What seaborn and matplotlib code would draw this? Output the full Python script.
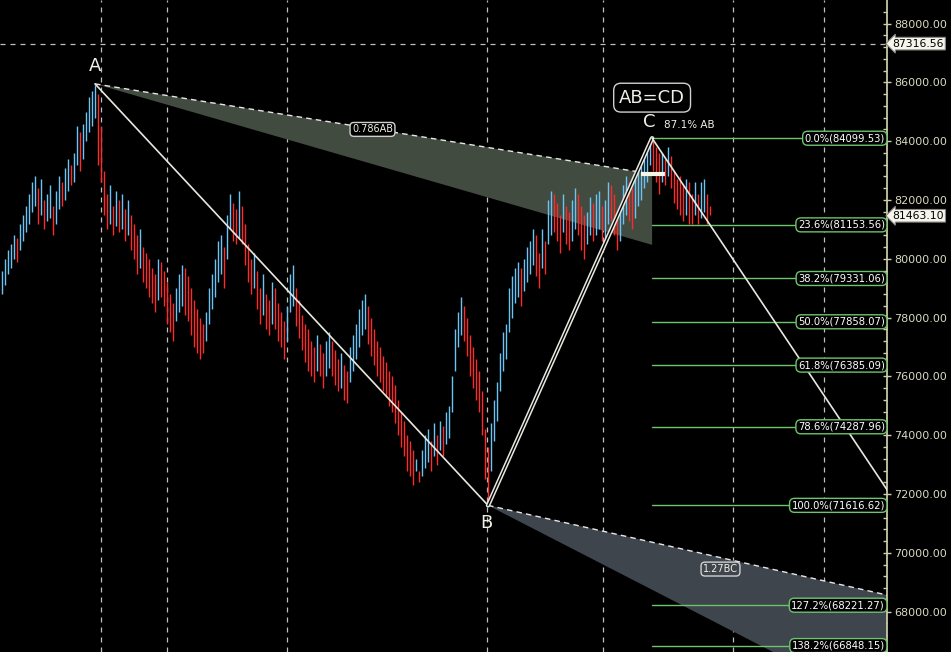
import numpy as np
import pandas as pd
import matplotlib
matplotlib.use("Agg")
import matplotlib.pyplot as plt
import seaborn as sns
from matplotlib.patches import Polygon

# ---- data (prices in hundreds of points) ----
highs = [796,800,803,805,808,807,812,815,818,822,
         826,828,824,827,820,822,825,818,823,828,
         826,831,834,832,836,845,843,846,850,855,
         857,859,856,845,830,822,825,818,823,820,
         822,817,820,815,812,808,810,804,802,800,
         797,795,800,799,796,792,788,785,790,795,
         798,797,794,790,786,783,780,778,782,790,
         795,800,806,808,804,815,822,819,817,823,
         818,812,805,800,802,796,790,795,788,786,
         792,790,785,782,779,784,795,798,790,786,
         781,778,776,772,770,774,771,768,772,775,
         772,769,766,768,764,762,770,774,778,783,
         786,788,784,780,776,772,770,767,765,762,
         760,757,752,748,745,740,738,735,732,728,
         735,740,742,738,744,740,745,743,748,750,
         760,776,782,787,784,780,774,770,766,762,
         755,742,736,744,752,758,768,775,778,790,
         794,797,799,797,800,804,806,810,808,802,
         810,806,820,823,822,819,815,822,818,816,
         820,824,822,818,815,816,821,819,822,823,
         818,820,826,825,822,815,818,825,828,826,
         824,828,831,833,836,838,841,840,838,836,
         836,834,838,835,830,827,828,825,827,826,
         822,826,822,826,827,822,818]
lows = [788,791,795,797,800,799,803,806,809,812,
        816,818,812,815,810,813,814,808,812,817,
        818,820,823,825,826,832,830,834,840,843,
        845,848,832,826,815,810,812,808,811,809,
        810,806,808,803,800,795,797,792,790,787,
        785,782,786,787,784,778,775,772,779,782,
        784,781,779,774,770,768,766,768,772,778,
        783,787,792,795,790,800,810,806,805,807,
        805,798,792,788,790,783,778,781,776,774,
        778,776,772,770,766,772,782,784,777,773,
        769,765,762,760,758,762,760,756,760,763,
        760,757,755,756,752,751,758,762,766,770,
        774,776,771,767,764,760,758,755,753,750,
        748,744,740,736,733,728,726,723,728,724,
        726,729,731,728,733,730,735,733,737,739,
        748,762,770,774,772,767,760,756,752,748,
        740,725,716,728,738,745,755,762,766,775,
        780,785,787,784,789,792,795,798,794,790,
        797,795,805,808,809,806,802,809,805,803,
        806,810,808,803,800,805,808,806,808,810,
        806,805,812,813,808,803,806,812,815,813,
        810,814,818,820,824,826,832,830,826,822,
        826,825,828,824,819,817,815,813,815,812,
        812,815,812,814,816,812,815]

A_idx, A_price = 31, 85948.3
B_idx, B_price = 162, 71616.62
C_idx, C_price = 216.7, 84099.53
D_idx = 310.6
ext_idx = 309
fib_levels = [0.0, 0.236, 0.382, 0.5, 0.618, 0.786, 1.0, 1.272, 1.382]
grid_x = [33, 55, 95, 161.7, 200.3, 243.7, 274]
last_price = 81463.10
high_line = 87316.56
yticks = list(range(68000, 88001, 2000))

df = pd.DataFrame({"i": np.arange(len(highs)), "high": np.array(highs) * 100.0,
                   "low": np.array(lows) * 100.0})
df["mid"] = (df.high + df.low) / 2
df["up"] = df.mid.diff().fillna(1) > 0

sns.set_theme(style="dark")
plt.rcParams['font.family'] = ['DejaVu Sans']
fig = plt.figure(figsize=(9.51, 6.52), dpi=100, facecolor="black")
ax = fig.add_axes([0, 0, 887 / 951, 1])
ax.set_facecolor("black")
ax.set_xlim(-0.67, 295)
ax.set_ylim(66630, 88800)

for gx in grid_x:
    ax.axvline(gx, color="#bfbfbf", lw=0.9, ls=(0, (4, 4)), zorder=1)
ax.axhline(high_line, color="#bfbfbf", lw=0.9, ls=(0, (4, 4)), zorder=1)

AB = A_price - B_price
BC = C_price - B_price
up786 = B_price + 0.786 * AB
up618 = B_price + 0.618 * AB
ax.add_patch(Polygon([[A_idx, A_price], [C_idx, up786], [C_idx, up618]],
                     closed=True, color="#424b40", zorder=2, lw=0))
ax.plot([A_idx, C_idx], [A_price, up786], color="#e6e6e6", lw=1, ls=(0, (4, 3)), zorder=3)
e127 = C_price - 1.27 * BC
e1618 = C_price - 1.618 * BC
ax.add_patch(Polygon([[B_idx, B_price], [ext_idx, e127], [ext_idx, e1618]],
                     closed=True, color="#3f454d", zorder=2, lw=0))
ax.plot([B_idx, ext_idx], [B_price, e127], color="#e6e6e6", lw=1, ls=(0, (4, 3)), zorder=3)

# price bars
ax.vlines(df.i[df.up], df.low[df.up], df.high[df.up], color="#6cc4f5", lw=1.0, zorder=4)
ax.vlines(df.i[~df.up], df.low[~df.up], df.high[~df.up], color="#ff2a2a", lw=1.0, zorder=4)

# fib levels
for f in fib_levels:
    lvl = C_price - f * BC
    ax.plot([C_idx, 295], [lvl, lvl], color="#6cc46c", lw=1, zorder=3)
    ax.text(294.3, lvl, f"{f*100:.1f}%({lvl:.2f})", color="white", fontsize=7.2,
            ha="right", va="center", zorder=6,
            bbox=dict(boxstyle="round,pad=0.2,rounding_size=0.5", fc="black", ec="#6cc46c", lw=1))

# pattern lines
pat = pd.DataFrame({"x": [A_idx, B_idx], "y": [A_price, B_price]})
sns.lineplot(data=pat, x="x", y="y", ax=ax, color="#e8e8e0", lw=1.2, zorder=5)
ax.plot([B_idx, C_idx], [B_price, C_price], color="#e8e8e0", lw=3.2, zorder=5)
ax.plot([B_idx, C_idx], [B_price, C_price], color="black", lw=1.0, zorder=5)
D_price = C_price - AB
ax.plot([C_idx, D_idx], [C_price, D_price], color="#e8e8e0", lw=1.2, zorder=5)
ax.plot([213, 221], [up786, up786], color="#f5f5e8", lw=3, zorder=5, solid_capstyle="butt")

# labels
ax.text(A_idx, A_price + 300, "A", color="#f0f0e6", fontsize=13, ha="center", va="bottom")
ax.text(B_idx - 0.5, B_price - 300, "B", color="#f0f0e6", fontsize=13, ha="center", va="top")
ax.text(C_idx - 1, C_price + 250, "C", color="#f0f0e6", fontsize=13, ha="center", va="bottom")
ax.text(C_idx + 4, C_price + 450, "87.1% AB", color="#f0f0e6", fontsize=7.5, ha="left", va="center")
ax.text(C_idx, C_price + 1380, "AB=CD", color="#f0f0e6", fontsize=13, ha="center", va="center",
        bbox=dict(boxstyle="round,pad=0.3,rounding_size=0.4", fc="black", ec="#d0d0d0", lw=1))
ax.text(123.5, 84400, "0.786AB", color="#f0f0e6", fontsize=7, ha="center", va="center", zorder=6,
        bbox=dict(boxstyle="round,pad=0.2,rounding_size=0.4", fc="black", ec="#d0d0d0", lw=1))
ax.text(239.5, 69450, "1.27BC", color="#f0f0e6", fontsize=7, ha="center", va="center", zorder=6,
        bbox=dict(boxstyle="round,pad=0.2,rounding_size=0.4", fc="#3f454d", ec="#d0d0d0", lw=1))

# right axis
ax.yaxis.tick_right()
ax.set_yticks(yticks)
ax.set_yticklabels([f"{v:.2f}" for v in yticks])
ax.set_yticks(np.arange(66800, 88800, 400), minor=True)
ax.tick_params(axis="y", which="major", colors="#cfcfb0", labelsize=8, length=6, width=1,
               direction="inout", pad=2, labelcolor="#d8d8c0")
ax.tick_params(axis="y", which="minor", colors="#cfcfb0", length=3, width=1, direction="in")
ax.tick_params(axis="x", bottom=False, labelbottom=False)
ax.set_xlabel(""); ax.set_ylabel("")
for s in ["top", "left", "bottom"]:
    ax.spines[s].set_visible(False)
ax.spines["right"].set_color("#cfcfb0")
for val in [high_line, last_price]:
    ax.annotate(f"{val:.2f}", xy=(1, val), xycoords=("axes fraction", "data"),
                xytext=(4, 0), textcoords="offset points", ha="left", va="center",
                fontsize=7.8, color="black", zorder=7, annotation_clip=False,
                bbox=dict(boxstyle="larrow,pad=0.12", fc="#f5f5ec", ec="#888888", lw=0.8))

fig.savefig("out.png", dpi=100, facecolor="black")
